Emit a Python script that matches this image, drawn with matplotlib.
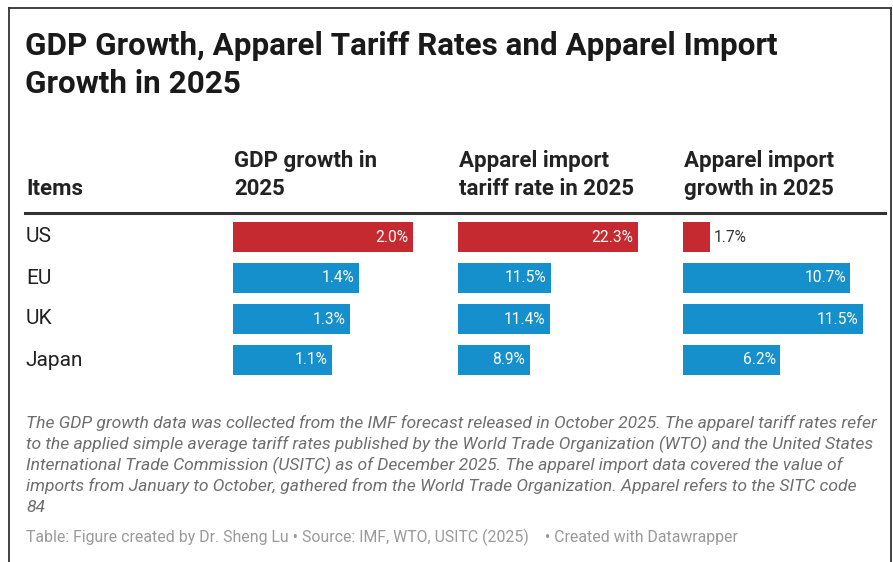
import matplotlib
matplotlib.use("Agg")
import matplotlib.pyplot as plt
from matplotlib.lines import Line2D
from matplotlib.transforms import blended_transform_factory

plt.rcParams['font.family'] = ['Roboto', 'DejaVu Sans']

# ---- data ----
items = ["US", "EU", "UK", "Japan"]
gdp_growth = [2.0, 1.4, 1.3, 1.1]
tariff_rate = [22.3, 11.5, 11.4, 8.9]
import_growth = [1.7, 10.7, 11.5, 6.2]
col_headers = [["GDP growth in", "2025"],
               ["Apparel import", "tariff rate in 2025"],
               ["Apparel import", "growth in 2025"]]
title_lines = ["GDP Growth, Apparel Tariff Rates and Apparel Import", "Growth in 2025"]
note_lines = [
    "The GDP growth data was collected from the IMF forecast released in October 2025. The apparel tariff rates refer",
    "to the applied simple average tariff rates published by the World Trade Organization (WTO) and the United States",
    "International Trade Commission (USITC) as of December 2025. The apparel import data covered the value of",
    "imports from January to October, gathered from the World Trade Organization. Apparel refers to the SITC code",
    "84",
]
source = "Table: Figure created by Dr. Sheng Lu \u2022 Source: IMF, WTO, USITC (2025)    \u2022 Created with Datawrapper"

RED = "#c42a30"
BLUE = "#1690cc"
colors = [RED, BLUE, BLUE, BLUE]

W, H = 893, 562
fig = plt.figure(figsize=(W / 100, H / 100), dpi=100)
fig.patch.set_facecolor("white")

def fx(x):
    return x / W

def fy(y):
    return 1 - y / H

# border
fig.add_artist(Line2D([fx(9), fx(9)], [fy(8), fy(570)], color="#333333", lw=1.3))
fig.add_artist(Line2D([fx(9), fx(891)], [fy(8), fy(8)], color="#333333", lw=1.3))
fig.add_artist(Line2D([fx(891), fx(891)], [fy(8), fy(570)], color="#333333", lw=1.3))

# title
for yb, line in zip([55, 93], title_lines):
    fig.text(fx(25), fy(yb), line, ha="left", va="baseline", fontsize=22.6, fontweight="bold",
             color="#1a1a1a")

# headers
fig.text(fx(26), fy(195), "Items", ha="left", va="baseline", fontsize=16, fontweight="bold", color="#222222")
col_x = [233, 458, 683]
for cx, hdr in zip(col_x, col_headers):
    for yb, line in zip([167, 195], hdr):
        fig.text(fx(cx + 1), fy(yb), line, ha="left", va="baseline", fontsize=16, fontweight="bold",
                 color="#222222")

# header rule
fig.add_artist(Line2D([fx(25), fx(885)], [fy(213), fy(213)], color="#333333", lw=2.2))

# bar columns
top, bottom = 216.5, 380.5
col_w = 205
bar_px = 180
series = [gdp_growth, tariff_rate, import_growth]
axes = []
for cx, vals in zip(col_x, series):
    ax = fig.add_axes([fx(cx), fy(bottom), col_w / W, (bottom - top) / H])
    vmax = max(vals)
    ax.set_xlim(0, vmax * col_w / bar_px)
    ax.set_ylim(len(items) - 0.5, -0.5)
    ypos = list(range(len(items)))
    ax.barh(ypos, vals, height=0.72, color=colors)
    ax.axis("off")
    for y, v in zip(ypos, vals):
        lab = f"{v:.1f}%"
        if v / vmax > 0.2:
            ax.text(v - vmax * 0.025, y, lab, ha="right", va="center", fontsize=11.2, color="white")
        else:
            ax.text(v + vmax * 0.025, y, lab, ha="left", va="center", fontsize=11.2, color="#333333")
    axes.append(ax)

# row labels
tr = blended_transform_factory(fig.transFigure, axes[0].transData)
for i, name in enumerate(items):
    axes[0].text(fx(26), i, name, transform=tr, ha="left", va="center", fontsize=15, color="#222222")

# notes
for yb, line in zip([428, 449, 470, 491, 512], note_lines):
    fig.text(fx(26), fy(yb), line, ha="left", va="baseline", fontsize=12.6, style="italic",
             color="#6e6e6e")
fig.text(fx(26), fy(542), source, ha="left", va="baseline", fontsize=11.4, color="#9a9a9a")

fig.savefig("out.png", dpi=100, facecolor="white")
